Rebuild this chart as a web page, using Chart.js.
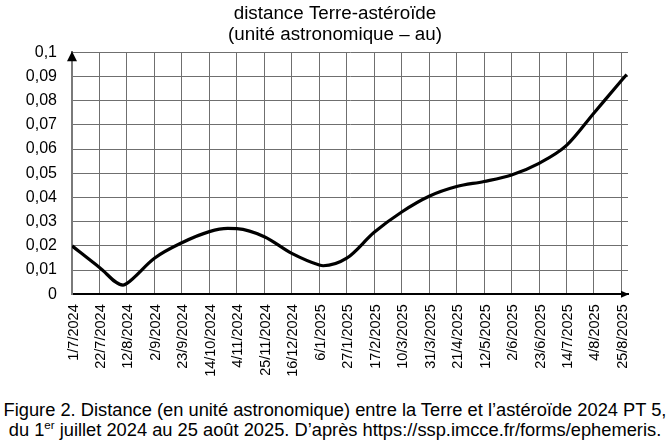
<!DOCTYPE html>
<html lang="fr">
<head>
<meta charset="utf-8">
<title>distance Terre-astéroïde</title>
<script src="https://cdn.jsdelivr.net/npm/chart.js@4.4.1/dist/chart.umd.min.js"></script>
<style>
  html, body { margin: 0; padding: 0; background: #fff; }
  #wrap { position: relative; width: 670px; height: 443px; overflow: hidden; }
  #chart { position: absolute; left: 0; top: 0; }
  #caption {
    position: absolute; left: 0; top: 400px; width: 670px;
    font-family: "Liberation Sans", Arial, sans-serif; font-size: 18.3px;
    line-height: 20px; text-align: center; color: #000; white-space: nowrap;
  }
  #caption sup { font-size: 11.5px; line-height: 0; vertical-align: 7px; }
</style>
</head>
<body>
<div id="wrap">
  <canvas id="chart" width="670" height="395"></canvas>
  <div id="caption">
    Figure 2. Distance (en unité astronomique) entre la Terre et l’astéroïde 2024 PT 5,<br>
    du 1<sup>er</sup> juillet 2024 au 25 août 2025. D’après https://ssp.imcce.fr/forms/ephemeris.
  </div>
</div>
<script>
// days counted from 1/7/2024, distance in au
const days      = [0, 21, 39, 42, 63, 84, 105, 119, 126, 147, 168, 189, 192, 210, 231, 252, 273, 294, 315, 336, 357, 378, 399, 420, 424];
const distances = [0.0200, 0.0111, 0.0038, 0.0045, 0.0149, 0.0213, 0.0259, 0.0272, 0.0271, 0.0238, 0.0169, 0.0121, 0.0118, 0.0149, 0.0256, 0.0340, 0.0405, 0.0445, 0.0466, 0.0493, 0.0541, 0.0615, 0.0749, 0.0883, 0.0908];

// x ticks every 3 weeks
const tickDays   = [0, 21, 42, 63, 84, 105, 126, 147, 168, 189, 210, 231, 252, 273, 294, 315, 336, 357, 378, 399, 420];
const tickLabels = ["1/7/2024", "22/7/2024", "12/8/2024", "2/9/2024", "23/9/2024", "14/10/2024", "4/11/2024",
  "25/11/2024", "16/12/2024", "6/1/2025", "27/1/2025", "17/2/2025", "10/3/2025", "31/3/2025", "21/4/2025",
  "12/5/2025", "2/6/2025", "23/6/2025", "14/7/2025", "4/8/2025", "25/8/2025"];
const yLabels = ["0", "0,01", "0,02", "0,03", "0,04", "0,05", "0,06", "0,07", "0,08", "0,09", "0,1"];

const FONT = "'Liberation Sans', Arial, sans-serif";
const GRID = "#6f6f6f";

const points = days.map((d, i) => ({ x: d, y: distances[i] }));

// arrow heads at the end of both axes
const arrows = {
  id: "arrows",
  afterDraw(chart) {
    const { ctx, chartArea: a } = chart;
    ctx.save();
    ctx.fillStyle = "#000";
    ctx.beginPath();
    ctx.moveTo(a.left, a.top - 1);
    ctx.lineTo(a.left - 5, a.top + 9);
    ctx.lineTo(a.left + 5, a.top + 9);
    ctx.closePath();
    ctx.fill();
    ctx.beginPath();
    ctx.moveTo(a.right + 1, a.bottom);
    ctx.lineTo(a.right - 7, a.bottom - 3.5);
    ctx.lineTo(a.right - 7, a.bottom + 3.5);
    ctx.closePath();
    ctx.fill();
    ctx.restore();
  }
};

new Chart(document.getElementById("chart").getContext("2d"), {
  type: "line",
  data: {
    datasets: [{
      data: points,
      borderColor: "#000",
      borderWidth: 3.2,
      pointRadius: 0,
      fill: false,
      cubicInterpolationMode: "monotone",
    }],
  },
  options: {
    responsive: false,
    animation: false,
    events: [],
    layout: { padding: 0 },
    plugins: {
      legend: { display: false },
      tooltip: { enabled: false },
      title: {
        display: true,
        text: ["distance Terre-astéroïde", "(unité astronomique – au)"],
        color: "#000",
        font: { family: FONT, size: 18.8, weight: "normal", lineHeight: 1.117 },
        padding: { top: 3.5, bottom: 6.7 },
      },
    },
    scales: {
      x: {
        type: "linear",
        min: 0,
        max: 425,
        afterBuildTicks: s => { s.ticks = tickDays.map(v => ({ value: v })); },
        afterFit: s => { s.height = 395 - 294.3; },
        grid: { color: GRID, lineWidth: 1, drawTicks: false },
        border: { color: "#000", width: 2 },
        ticks: {
          minRotation: 90,
          maxRotation: 90,
          padding: 10,
          labelOffset: 1.5,
          autoSkip: false,
          color: "#000",
          font: { family: FONT, size: 14.5 },
          callback: (v, i) => tickLabels[i],
        },
      },
      y: {
        min: 0,
        max: 0.1,
        afterBuildTicks: s => { s.ticks = yLabels.map((t, i) => ({ value: i / 100 })); },
        afterFit: s => { s.width = 72; },
        grid: { color: GRID, lineWidth: 1, drawTicks: false },
        border: { color: "#7a7a7a", width: 2 },
        ticks: {
          padding: 15,
          color: "#000",
          font: { family: FONT, size: 16 },
          callback: (v, i) => yLabels[i],
        },
      },
      // empty right-hand axis: keeps the plot 42 px from the right edge
      yRight: {
        position: "right",
        min: 0,
        max: 0.1,
        afterFit: s => { s.width = 42; },
        grid: { display: false },
        border: { display: false },
        ticks: { display: false },
      },
    },
  },
  plugins: [arrows],
});
</script>
</body>
</html>
